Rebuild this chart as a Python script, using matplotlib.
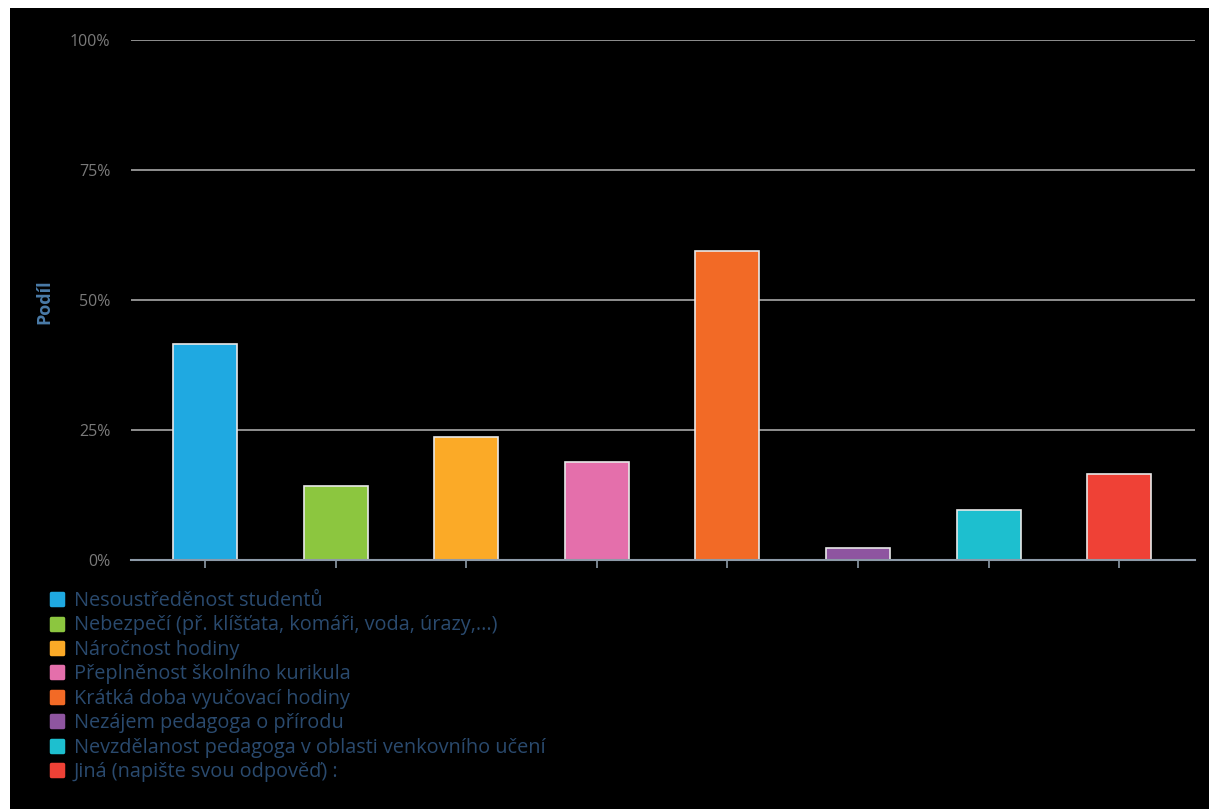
import matplotlib.pyplot as plt
from matplotlib.lines import Line2D
from matplotlib.markers import MarkerStyle
from matplotlib.patches import Rectangle
import numpy as np

categories = [
    "Nesoustředěnost studentů",
    "Nebezpečí (př. klíšťata, komáři, voda, úrazy,...)",
    "Náročnost hodiny",
    "Přeplněnost školního kurikula",
    "Krátká doba vyučovací hodiny",
    "Nezájem pedagoga o přírodu",
    "Nevzdělanost pedagoga v oblasti venkovního učení",
    "Jiná (napište svou odpověď) :",
]
shares = [41.5, 14.3, 23.7, 18.9, 59.5, 2.4, 9.7, 16.6]
colors = ["#1fa9e1", "#8cc63f", "#fbaa27", "#e46fab", "#f26a26", "#8e55a0", "#1dbfcf", "#ef4136"]
yticks = [0, 25, 50, 75, 100]

plt.rcParams["font.family"] = ["Open Sans", "DejaVu Sans"]

fig = plt.figure(figsize=(12.09, 8.09), dpi=100, facecolor="white")
# black panel, leaving a thin white strip top and left
fig.patches.append(Rectangle((10 / 1209, 0), 1, 1 - 8 / 809, transform=fig.transFigure,
                             facecolor="black", edgecolor="none", zorder=-5))

ax = fig.add_axes([131 / 1209, 1 - 560 / 809, (1195 - 131) / 1209, (560 - 40) / 809])
ax.set_facecolor("black")

x = np.arange(len(categories))
ax.bar(x, shares, width=0.49, color=colors, edgecolor="#e8e8e8", linewidth=1.2, zorder=3)

ax.set_xlim(-0.567, 7.58)
ax.set_ylim(0, 100)
ax.set_yticks(yticks)
ax.set_yticklabels([f"{t}%" for t in yticks], color="#7a7a7a", fontsize=11.5)
ax.yaxis.grid(True, color="#a8a8a8", linewidth=1.2, zorder=0)
ax.tick_params(axis="y", length=0, pad=15)
ax.set_xticks(x)
ax.set_xticklabels([])
ax.tick_params(axis="x", length=6, color="#8d9aa8", width=1.2)
for s in ["top", "right", "left"]:
    ax.spines[s].set_visible(False)
ax.spines["bottom"].set_color("#8d9aa8")
ax.spines["bottom"].set_linewidth(1.5)
ax.spines["bottom"].set_zorder(4)

fig.text(44 / 1209, 1 - 302 / 809, "Podíl", rotation=90, color="#4a7ba8",
         fontsize=13, fontweight="bold", ha="center", va="center")

# rounded square swatches for the legend
swatch = MarkerStyle("s", joinstyle="round")
handles = [Line2D([], [], linestyle="none", marker=swatch, markersize=9,
                  markeredgewidth=2.5, markerfacecolor=c, markeredgecolor=c)
           for c in colors]
leg = fig.legend(handles, categories, loc="upper left",
                 bbox_to_anchor=(51 / 1209, 1 - 591 / 809), frameon=False,
                 fontsize=14.3, handlelength=0.6, handletextpad=0.55,
                 labelspacing=0.225, borderpad=0, borderaxespad=0)
for t in leg.get_texts():
    t.set_color("#2a4a6e")

fig.savefig("out.png", dpi=100, facecolor="white")
